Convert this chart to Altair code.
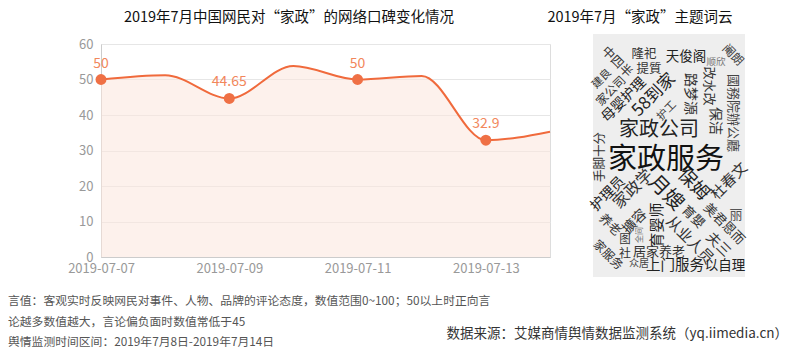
import altair as alt
import pandas as pd

FONT = "Noto Sans CJK SC"

# ---- line chart data ----
dates = ["2019-07-07", "2019-07-08", "2019-07-09", "2019-07-10",
         "2019-07-11", "2019-07-12", "2019-07-13", "2019-07-14"]
values = [50, 51.2, 44.65, 53.8, 50, 51.0, 32.9, 35.3]
labeled = [True, False, True, False, True, False, True, False]
tick_dates = ["2019-07-07", "2019-07-09", "2019-07-11", "2019-07-13"]

# ---- word cloud data (layout coordinates inside the cloud box) ----
words = ["隆祀", "提質", "天俊阁", "顺欣", "中四半", "阉朗", "家公司", "建良",
         "母婴护理", "58到家", "护工", "路梦源", "改水改", "保洁", "國務院辦公廳",
         "家政公司", "家政服务", "手脚十分", "护理员", "家政学", "月嫂", "保姆",
         "杜春文", "丽", "美君恩而", "育婴师", "擴容", "养老", "全间", "从业人员",
         "育嬰", "夫三", "图", "社", "居家养老", "众居", "上门服务", "以自理", "家服务"]
wx = [51, 56, 93, 123, 24, 140, 18, 9,
      31, 61, 74, 97, 116, 122, 140,
      66, 73, 7, 15, 40, 73, 100,
      136, 143, 131, 64, 42, 17, 47, 97,
      100, 125, 32, 32, 66, 46, 82, 132, 15]
wy = [20, 35, 23, 28, 28, 21, 57, 45,
      66, 61, 77, 60, 52, 87, 79,
      96, 126, 123, 160, 155, 159, 151,
      147, 181, 190, 191, 188, 191, 201, 206,
      183, 211, 206, 220, 217.5, 230, 232, 232, 221]
wsize = [12.5, 12.5, 13.5, 9.5, 12.5, 12, 12, 11,
         14, 17, 11, 14, 13, 14, 13,
         20, 29, 12.5, 14, 16, 20, 18,
         15, 13, 13, 15, 14, 12.5, 8, 15,
         13, 14, 11.5, 12, 13, 10, 14.5, 13.5, 12]
wangle = [0, 0, 0, 0, 45, 45, 315, 315,
          315, 315, 315, 90, 90, 90, 90,
          0, 0, 270, 315, 315, 45, 45,
          315, 0, 45, 270, 315, 45, 270, 45,
          45, 45, 0, 0, 0, 0, 0, 0, 45]
wcolor = ["#333333", "#333333", "#222222", "#777777", "#333333", "#444444", "#333333", "#333333",
          "#222222", "#222222", "#444444", "#333333", "#333333", "#333333", "#444444",
          "#222222", "#111111", "#333333", "#222222", "#333333", "#222222", "#222222",
          "#333333", "#555555", "#333333", "#222222", "#333333", "#333333", "#666666", "#333333",
          "#333333", "#333333", "#333333", "#333333", "#333333", "#444444", "#222222", "#222222",
          "#333333"]

# ---- texts ----
title_left = ["2019年7月中国网民对“家政”的网络口碑变化情况"]
title_right = ["2019年7月“家政”主题词云"]
notes = ["言值：客观实时反映网民对事件、人物、品牌的评论态度，数值范围0~100；50以上时正向言",
         "论越多数值越大，言论偏负面时数值常低于45",
         "舆情监测时间区间：2019年7月8日-2019年7月14日"]
source = ["数据来源：艾媒商情舆情数据监测系统（yq.iimedia.cn）"]

df = pd.DataFrame({"date": dates, "value": values, "labeled": labeled})
dfl = df[df["labeled"]]

x_enc = alt.X("date:T",
              scale=alt.Scale(type="utc", domain=[dates[0], dates[-1]]),
              axis=alt.Axis(values=tick_dates,
                            labelExpr="utcFormat(datum.value, '%Y-%m-%d')",
                            title=None, grid=False, ticks=False, labelPadding=5,
                            labelColor="#999999", labelFontSize=13, labelFont=FONT,
                            domainColor="#cccccc", labelFlush=False))
y_enc = alt.Y("value:Q",
              scale=alt.Scale(domain=[0, 60]),
              axis=alt.Axis(values=[0, 10, 20, 30, 40, 50, 60], title=None, ticks=False,
                            labelPadding=8, labelColor="#999999", labelFontSize=13,
                            labelFont=FONT, gridColor="#e6e6e6", domainColor="#cccccc"))

base = alt.Chart(df)
area = base.mark_area(interpolate="monotone", color="#fbe6dc", opacity=0.55).encode(x=x_enc, y=y_enc)
line = base.mark_line(interpolate="monotone", color="#f06a3c", strokeWidth=2).encode(x=x_enc, y=y_enc)
pts = alt.Chart(dfl).mark_circle(size=120, color="#ef7045", opacity=1).encode(x=x_enc, y=y_enc)
lbl = alt.Chart(dfl).mark_text(dy=-16, color="#f2875c", fontSize=14, font=FONT).encode(
    x=x_enc, y=y_enc, text=alt.Text("value:Q"))
main = alt.layer(area, line, pts, lbl)

# word cloud box + words
box = alt.Chart(pd.DataFrame({"a": [0]})).mark_rect(color="#eeeeee").encode(
    x=alt.value(492), x2=alt.value(644), y=alt.value(-10), y2=alt.value(233))
wdf = pd.DataFrame({"w": words, "wx": wx, "wy": wy, "s": wsize, "a": wangle, "c": wcolor})
cloud = alt.Chart(wdf).mark_text(font=FONT, baseline="middle", align="center").encode(
    x=alt.X("wx:Q", scale=alt.Scale(domain=[0, 152], range=[492, 644]), axis=None),
    y=alt.Y("wy:Q", scale=alt.Scale(domain=[0, 243], range=[-10, 233]), axis=None),
    text="w:N",
    size=alt.Size("s:Q", scale=None, legend=None),
    angle=alt.Angle("a:Q", scale=None, legend=None),
    color=alt.Color("c:N", scale=None, legend=None))

t1 = alt.Chart(pd.DataFrame({"t": title_left})).mark_text(
    font=FONT, fontSize=14.5, color="#111111", align="center", baseline="middle").encode(
    x=alt.value(188), y=alt.value(-26), text="t:N")
t2 = alt.Chart(pd.DataFrame({"t": title_right})).mark_text(
    font=FONT, fontSize=14.5, color="#111111", align="center", baseline="middle").encode(
    x=alt.value(539), y=alt.value(-26), text="t:N")
note_layers = []
for i, n in enumerate(notes):
    note_layers.append(alt.Chart(pd.DataFrame({"t": [n]})).mark_text(
        font=FONT, fontSize=11.8, color="#555555", align="left", baseline="middle").encode(
        x=alt.value(-93), y=alt.value(257 + 20.5 * i), text="t:N"))
src = alt.Chart(pd.DataFrame({"t": source})).mark_text(
    font=FONT, fontSize=13.5, color="#333333", align="right", baseline="middle").encode(
    x=alt.value(687), y=alt.value(290), text="t:N")

chart = alt.layer(main, box, cloud, t1, t2, *note_layers, src).resolve_scale(
    x="independent", y="independent").properties(
    width=449, height=213,
    autosize=alt.AutoSizeParams(type="none"),
    padding={"left": 93, "top": 36, "right": 242, "bottom": 93},
).configure_view(stroke=None).configure(background="white")

chart.save("out.html", embed_options={"renderer": "svg", "actions": False})
